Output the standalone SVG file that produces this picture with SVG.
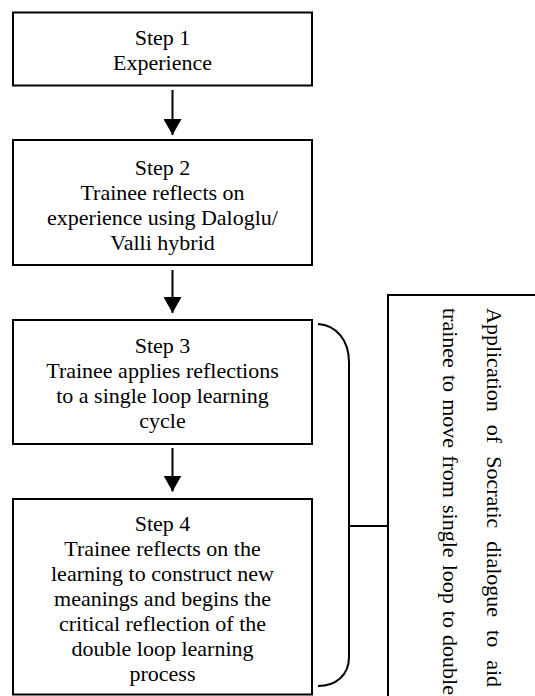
<svg xmlns="http://www.w3.org/2000/svg" width="535" height="696" viewBox="0 0 535 696">
<defs>
<style>
.box{fill:#fff;stroke:#000;stroke-width:2}
.t{font-family:"Liberation Serif","Times New Roman",serif;font-size:22px;fill:#000;text-anchor:middle}
.r{font-family:"Liberation Serif","Times New Roman",serif;font-size:22px;fill:#000}
.ln{fill:none;stroke:#000;stroke-width:2}
</style>
<marker id="ah" viewBox="0 0 16 18" refX="16" refY="9" markerWidth="16" markerHeight="18" markerUnits="userSpaceOnUse" orient="auto">
<path d="M0,0 L16,9 L0,18 Z" fill="#000"/>
</marker>
</defs>
<rect width="535" height="696" fill="#fff"/>
<g id="step1">
<rect class="box" x="13" y="12.5" width="299" height="73"/>
<text class="t" x="162.5" y="44.5">Step 1</text>
<text class="t" x="162.5" y="69.5">Experience</text>
</g>
<g id="step2">
<rect class="box" x="13" y="140" width="299" height="125"/>
<text class="t" x="162.5" y="174.5">Step 2</text>
<text class="t" x="162.5" y="199.5">Trainee reflects on</text>
<text class="t" x="162.5" y="224.5">experience using Daloglu/</text>
<text class="t" x="162.5" y="249.5">Valli hybrid</text>
</g>
<g id="step3">
<rect class="box" x="13" y="320" width="299" height="124"/>
<text class="t" x="162.5" y="353">Step 3</text>
<text class="t" x="162.5" y="378">Trainee applies reflections</text>
<text class="t" x="162.5" y="403">to a single loop learning</text>
<text class="t" x="162.5" y="428">cycle</text>
</g>
<g id="step4">
<rect class="box" x="13" y="499" width="299" height="195.5"/>
<text class="t" x="162.5" y="531">Step 4</text>
<text class="t" x="162.5" y="556">Trainee reflects on the</text>
<text class="t" x="162.5" y="581">learning to construct new</text>
<text class="t" x="162.5" y="606">meanings and begins the</text>
<text class="t" x="162.5" y="631">critical reflection of the</text>
<text class="t" x="162.5" y="656">double loop learning</text>
<text class="t" x="162.5" y="681">process</text>
</g>
<g id="socratic">
<rect class="box" x="388" y="295" width="200" height="450"/>
<text class="r" transform="translate(487,308) rotate(90)" word-spacing="7.5">Application of Socratic dialogue to aid</text>
<text class="r" transform="translate(443,308) rotate(90)" word-spacing="1.6">trainee to move from single loop to double</text>
</g>
<g id="connectors">
<line class="ln" x1="172.5" y1="90" x2="172.5" y2="135" marker-end="url(#ah)"/>
<line class="ln" x1="172.5" y1="270" x2="172.5" y2="313" marker-end="url(#ah)"/>
<line class="ln" x1="172.5" y1="448" x2="172.5" y2="491.5" marker-end="url(#ah)"/>
<path class="ln" stroke-width="2.5" d="M318,324 C336,325 349,340 349,362 L349,657 C349,675 336,686 318,686"/>
<line class="ln" x1="349" y1="526" x2="388" y2="526"/>
</g>
</svg>
